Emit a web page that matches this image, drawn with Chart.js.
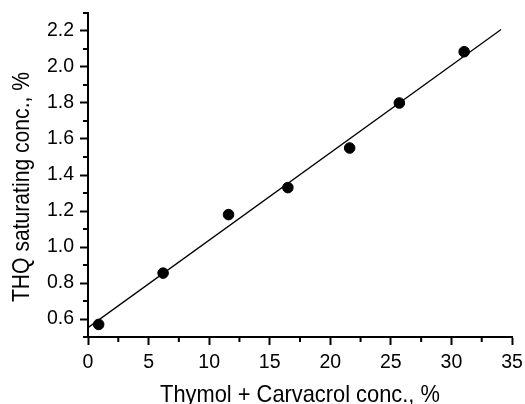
<!DOCTYPE html>
<html>
<head>
<meta charset="utf-8">
<script src="https://cdn.jsdelivr.net/npm/chart.js@4.4.1/dist/chart.umd.min.js"></script>
<style>
  html, body { margin: 0; padding: 0; background: #fff; }
  canvas { display: block; }
</style>
</head>
<body>
<canvas id="mainChart" width="525" height="404"></canvas>
<script>
// measured points
const concX = [0.88, 6.2, 11.6, 16.5, 21.6, 25.7, 31.05];
const thqY = [0.57, 0.855, 1.18, 1.33, 1.55, 1.80, 2.085];

// fitted straight line, two ends
const fitX = [0, 34.1];
const fitY = [0.552, 2.208];

const xMajor = [0, 5, 10, 15, 20, 25, 30, 35];
const xMinor = [2.5, 7.5, 12.5, 17.5, 22.5, 27.5, 32.5];
const yMajor = [0.6, 0.8, 1.0, 1.2, 1.4, 1.6, 1.8, 2.0, 2.2];
const yMinor = [0.5, 0.7, 0.9, 1.1, 1.3, 1.5, 1.7, 1.9, 2.1, 2.3];

const fontFamily = '"Liberation Sans", Arial, sans-serif';

let toPoints = (xs, ys) => xs.map((x, i) => ({ x: x, y: ys[i] }));

// minor ticks, shorter than the major ones
let minorTicks = {
  id: 'minorTicks',
  afterDraw: (chart) => {
    let ctx = chart.ctx,
        xs = chart.scales.x,
        ys = chart.scales.y,
        len = 5;
    ctx.save();
    ctx.strokeStyle = '#000';
    ctx.lineWidth = 2;
    ctx.beginPath();
    xMinor.forEach(v => {
      let px = xs.getPixelForValue(v);
      ctx.moveTo(px, xs.top);
      ctx.lineTo(px, xs.top + len);
    });
    yMinor.forEach(v => {
      let py = ys.getPixelForValue(v);
      ctx.moveTo(ys.right, py);
      ctx.lineTo(ys.right - len, py);
    });
    ctx.stroke();
    ctx.restore();
  }
};

// axis titles in the original are set in a tall, narrow face: squeeze them
let wrapTitle = (scale, factor, shift) => {
  if (scale._squeezed) return;
  scale._squeezed = true;
  let drawTitle = scale.drawTitle.bind(scale);
  scale.drawTitle = () => {
    let ctx = scale.ctx;
    ctx.save();
    if (scale.isHorizontal()) {
      let cx = (scale.left + scale.right) / 2;
      ctx.translate(cx, 0);
      ctx.scale(factor, 1);
      ctx.translate(-cx, 0);
    } else {
      let cy = (scale.top + scale.bottom) / 2;
      ctx.translate(0, cy + shift);
      ctx.scale(1, factor);
      ctx.translate(0, -cy);
    }
    drawTitle();
    ctx.restore();
  };
};

let squeezeTitles = {
  id: 'squeezeTitles',
  afterLayout: (chart) => {
    wrapTitle(chart.scales.x, 0.91, 0);
    wrapTitle(chart.scales.y, 0.88, 12);
  }
};

let ctx = document.getElementById('mainChart').getContext('2d');
let chart = new Chart(ctx, {
  type: 'scatter',
  data: {
    datasets: [
      {
        data: toPoints(fitX, fitY),
        showLine: true,
        borderColor: '#000',
        borderWidth: 1.3,
        pointRadius: 0,
        fill: false
      },
      {
        data: toPoints(concX, thqY),
        backgroundColor: '#000',
        borderColor: '#000',
        pointRadius: 5.3,
        pointHoverRadius: 5.3
      }
    ]
  },
  options: {
    responsive: false,
    animation: false,
    layout: { padding: { top: 13, right: 13, left: 0, bottom: 0 } },
    plugins: {
      legend: { display: false },
      tooltip: { enabled: false }
    },
    scales: {
      x: {
        type: 'linear',
        min: 0,
        max: 35,
        afterBuildTicks: (scale) => { scale.ticks = xMajor.map(v => ({ value: v })); },
        afterFit: (scale) => {
          scale.height = 67;
          scale.paddingLeft = 0;
          scale.paddingRight = 0;
        },
        border: { display: true, color: '#000', width: 2 },
        grid: { drawOnChartArea: false, tickLength: 8, tickWidth: 2, tickColor: '#000' },
        ticks: {
          color: '#000',
          padding: 6,
          maxRotation: 0,
          font: { family: fontFamily, size: 19.5 },
          callback: (v) => String(v)
        },
        title: {
          display: true,
          text: 'Thymol + Carvacrol conc., %',
          color: '#000',
          padding: 0,
          font: { family: fontFamily, size: 24, lineHeight: '18px' }
        }
      },
      y: {
        type: 'linear',
        min: 0.5,
        max: 2.3,
        afterBuildTicks: (scale) => { scale.ticks = yMajor.map(v => ({ value: v })); },
        afterFit: (scale) => {
          scale.width = 88;
          scale.paddingTop = 0;
          scale.paddingBottom = 0;
        },
        border: { display: true, color: '#000', width: 2 },
        grid: { drawOnChartArea: false, tickLength: 8, tickWidth: 2, tickColor: '#000' },
        ticks: {
          color: '#000',
          padding: 6,
          font: { family: fontFamily, size: 19.5 },
          callback: (v) => Number(v).toFixed(1)
        },
        title: {
          display: true,
          text: 'THQ saturating conc., %',
          color: '#000',
          padding: 0,
          font: { family: fontFamily, size: 24, lineHeight: '45px' }
        }
      }
    }
  },
  plugins: [minorTicks, squeezeTitles]
});
</script>
</body>
</html>
